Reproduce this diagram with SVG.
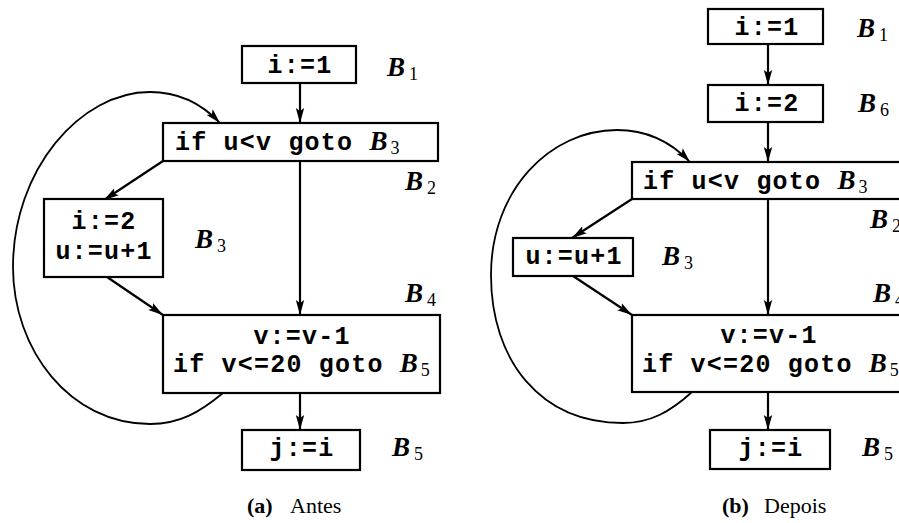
<svg xmlns="http://www.w3.org/2000/svg" width="899" height="523" viewBox="0 0 899 523">
<style>
.box{fill:#fff;stroke:#000;stroke-width:2.2}
.code{font-family:"Liberation Mono","Courier New",monospace;font-weight:bold;font-size:25px;letter-spacing:1.2px;fill:#000}
.bi{font-family:"Liberation Serif","Times New Roman",serif;font-weight:bold;font-style:italic;letter-spacing:0}
.sub{font-family:"Liberation Serif","Times New Roman",serif;font-weight:normal;font-style:normal;font-size:18px;letter-spacing:0}
.lab{font-family:"Liberation Serif","Times New Roman",serif;font-weight:bold;font-style:italic;font-size:27px;fill:#000}
.cap{font-family:"Liberation Serif","Times New Roman",serif;font-size:22px;fill:#000}
.edge{fill:none;stroke:#000;stroke-width:2.2}
.loop{fill:none;stroke:#000;stroke-width:1.8}
</style>
<defs>
<marker id="arr" markerUnits="userSpaceOnUse" markerWidth="16" markerHeight="10" refX="15" refY="5" orient="auto">
<path d="M0,0.8 L15,5 L0,9.2 L3,5 z" fill="#000"/>
</marker>
</defs>
<rect width="899" height="523" fill="#fff"/>

<g id="connectors">
<line class="edge" x1="300" y1="83" x2="300" y2="123" marker-end="url(#arr)"/>
<line class="edge" x1="163" y1="161" x2="104" y2="200" marker-end="url(#arr)"/>
<line class="edge" x1="300" y1="161" x2="300" y2="315" marker-end="url(#arr)"/>
<line class="edge" x1="107" y1="277" x2="163" y2="315" marker-end="url(#arr)"/>
<line class="edge" x1="300" y1="393" x2="300" y2="430" marker-end="url(#arr)"/>
<path class="loop" d="M223,393 C200,412 180,424 150,424 C70,424 13,350 13,267 C13,170 80,92 150,92 C180,92 203,105 220,123" marker-end="url(#arr)"/>

<line class="edge" x1="768" y1="44" x2="768" y2="85" marker-end="url(#arr)"/>
<line class="edge" x1="768" y1="122" x2="768" y2="162" marker-end="url(#arr)"/>
<line class="edge" x1="632" y1="199" x2="572" y2="238" marker-end="url(#arr)"/>
<line class="edge" x1="768" y1="199" x2="768" y2="315" marker-end="url(#arr)"/>
<line class="edge" x1="573" y1="276" x2="632" y2="315" marker-end="url(#arr)"/>
<line class="edge" x1="768" y1="392" x2="768" y2="430" marker-end="url(#arr)"/>
<path class="loop" d="M692,392 C670,412 650,423 623,423 C540,423 491,360 491,275 C491,190 550,130 617,130 C648,130 672,143 690,162" marker-end="url(#arr)"/>
</g>

<!-- Panel (a) -->
<g id="a-B1">
<rect class="box" x="242" y="46" width="114" height="37"/>
<text class="code" x="300" y="73" text-anchor="middle">i:=1</text>
<text class="lab" x="387" y="76">B<tspan class="sub" dx="4" dy="4">1</tspan></text>
</g>
<g id="a-B2">
<rect class="box" x="163" y="123" width="275" height="38"/>
<text class="code" x="175" y="150">if u&lt;v goto <tspan class="bi" font-size="27">B</tspan><tspan class="sub" dx="3" dy="4">3</tspan></text>
<text class="lab" x="405" y="190">B<tspan class="sub" dx="4" dy="4">2</tspan></text>
</g>
<g id="a-B3">
<rect class="box" x="44" y="199" width="119" height="78"/>
<text class="code" x="104" y="229" text-anchor="middle">i:=2</text>
<text class="code" x="104" y="259" text-anchor="middle">u:=u+1</text>
<text class="lab" x="195" y="248">B<tspan class="sub" dx="4" dy="4">3</tspan></text>
</g>
<g id="a-B4">
<rect class="box" x="163" y="315" width="277" height="78"/>
<text class="code" x="302" y="344" text-anchor="middle">v:=v-1</text>
<text class="code" x="173" y="372">if v&lt;=20 goto <tspan class="bi" font-size="27">B</tspan><tspan class="sub" dx="3" dy="4">5</tspan></text>
<text class="lab" x="405" y="302">B<tspan class="sub" dx="4" dy="4">4</tspan></text>
</g>
<g id="a-B5">
<rect class="box" x="242" y="430" width="118" height="40"/>
<text class="code" x="302" y="456" text-anchor="middle">j:=i</text>
<text class="lab" x="392" y="456">B<tspan class="sub" dx="4" dy="4">5</tspan></text>
</g>
<text class="cap" x="247" y="513"><tspan font-weight="bold">(a)</tspan><tspan x="290">Antes</tspan></text>

<!-- Panel (b) -->
<g id="b-B1">
<rect class="box" x="708" y="9" width="115" height="35"/>
<text class="code" x="767" y="35" text-anchor="middle">i:=1</text>
<text class="lab" x="857" y="37">B<tspan class="sub" dx="4" dy="4">1</tspan></text>
</g>
<g id="b-B6">
<rect class="box" x="708" y="85" width="115" height="37"/>
<text class="code" x="767" y="111" text-anchor="middle">i:=2</text>
<text class="lab" x="858" y="112">B<tspan class="sub" dx="4" dy="4">6</tspan></text>
</g>
<g id="b-B2">
<rect class="box" x="632" y="162" width="300" height="37"/>
<text class="code" x="643" y="189">if u&lt;v goto <tspan class="bi" font-size="27">B</tspan><tspan class="sub" dx="3" dy="4">3</tspan></text>
<text class="lab" x="870" y="228">B<tspan class="sub" dx="4" dy="4">2</tspan></text>
</g>
<g id="b-B3">
<rect class="box" x="513" y="238" width="120" height="38"/>
<text class="code" x="574" y="264" text-anchor="middle">u:=u+1</text>
<text class="lab" x="662" y="265">B<tspan class="sub" dx="4" dy="4">3</tspan></text>
</g>
<g id="b-B4">
<rect class="box" x="632" y="315" width="300" height="77"/>
<text class="code" x="769" y="343" text-anchor="middle">v:=v-1</text>
<text class="code" x="642" y="372">if v&lt;=20 goto <tspan class="bi" font-size="27">B</tspan><tspan class="sub" dx="3" dy="4">5</tspan></text>
<text class="lab" x="873" y="302">B<tspan class="sub" dx="4" dy="4">4</tspan></text>
</g>
<g id="b-B5">
<rect class="box" x="710" y="430" width="120" height="39"/>
<text class="code" x="771" y="456" text-anchor="middle">j:=i</text>
<text class="lab" x="862" y="456">B<tspan class="sub" dx="4" dy="4">5</tspan></text>
</g>
<text class="cap" x="722" y="513"><tspan font-weight="bold">(b)</tspan><tspan x="764">Depois</tspan></text>
</svg>
